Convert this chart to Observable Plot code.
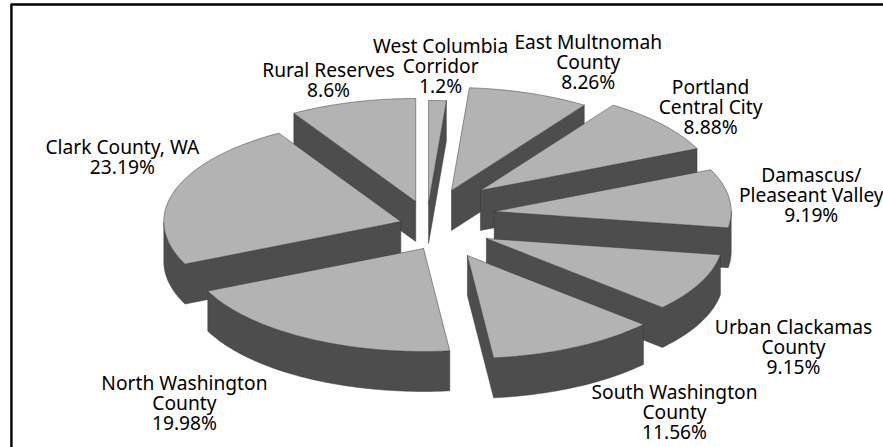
<!DOCTYPE html>
<html>
<head>
<meta charset="utf-8">
<style>
  html, body { margin: 0; padding: 0; background: #fff; }
  svg { display: block; }
</style>
<script src="https://cdn.jsdelivr.net/npm/d3@7"></script>
<script src="https://cdn.jsdelivr.net/npm/@observablehq/plot@0.6"></script>
</head>
<body>
<script>
// Slices, clockwise from twelve o'clock.
const regions = ["West Columbia\nCorridor", "East Multnomah\nCounty", "Portland\nCentral City",
  "Damascus/\nPleaseant Valley", "Urban Clackamas\nCounty", "South Washington\nCounty",
  "North Washington\nCounty", "Clark County, WA", "Rural Reserves"];
const shares = [1.2, 8.26, 8.88, 9.19, 9.15, 11.56, 19.98, 23.19, 8.6];
const shareLabels = ["1.2%", "8.26%", "8.88%", "9.19%", "9.15%", "11.56%", "19.98%", "23.19%", "8.6%"];

// How far each slice is pulled out of the pie, in pie radii.
const pullX = [-0.08, 0.017, 0.139, 0.197, 0.164, 0.084, -0.101, -0.197, -0.134];
const pullY = [0.146, 0.272, 0.272, 0.068, -0.194, -0.359, -0.291, -0.029, 0.165];

// Where each label block is centred, in pie radii.
const labelX = [-0.029, 0.594, 1.11, 1.535, 1.46, 0.958, -1.11, -1.372, -0.502];
const labelY = [1.476, 1.515, 1.078, 0.223, -1.252, -1.883, -1.796, 0.592, 1.34];

// Back-to-front drawing order, so nearer slices cover the walls behind them.
const paintOrder = [0, 8, 1, 2, 3, 4, 5, 7, 6];

const thickness = 0.388;      // height of the extruded pie, in vertical radii
const topFill = "#b3b3b3";
const wallFill = "#4d4d4d";
const edge = "#3a3a3a";

const total = d3.sum(shares);
const ends = d3.cumsum(shares).map((v) => (v / total) * 2 * Math.PI);

// Outline of one slice's upper face, traversed clockwise on screen.
function outline(i) {
  const a0 = i ? ends[i - 1] : 0, a1 = ends[i];
  const steps = Math.max(2, Math.ceil((a1 - a0) / 0.02));
  const apex = {x: pullX[i], y: pullY[i]};
  const arc = d3.range(steps + 1).map((k) => {
    const a = a0 + ((a1 - a0) * k) / steps;
    return {x: pullX[i] + Math.sin(a), y: pullY[i] + Math.cos(a)};
  });
  return [apex, ...arc, apex];
}

// Runs of outline edges facing the viewer (heading left), extruded downward.
function walls(path) {
  const runs = [];
  let run = null;
  for (let k = 1; k < path.length; ++k) {
    if (path[k].x < path[k - 1].x - 1e-9) {
      if (!run) runs.push(run = [path[k - 1]]);
      run.push(path[k]);
    } else run = null;
  }
  return runs.flatMap((r, id) => [...r, ...r.slice().reverse().map((p) => ({x: p.x, y: p.y - thickness})), r[0]]
    .map((p) => ({...p, id})));
}

const line = (data, fill, z) => Plot.line(data, {
  x: "x", y: "y", z, fill, stroke: edge, strokeWidth: 0.5, strokeLinejoin: "round", curve: "linear"
});

const sliceMarks = paintOrder.flatMap((i) => {
  const path = outline(i);
  return [line(walls(path), wallFill, "id"), line(path, topFill)];
});

const labels = regions.map((name, i) => ({
  text: `${name}\n${shareLabels[i]}`, x: labelX[i], y: labelY[i]
}));

const xMin = -447 / 237, xMax = 436 / 237, yMin = -229 / 103, yMax = 218 / 103;

const chart = Plot.plot({
  width: 883,
  height: 447,
  margin: 0,
  style: {background: "#fff"},
  x: {axis: null, domain: [xMin, xMax], range: [0, 883]},
  y: {axis: null, domain: [yMin, yMax], range: [447, 0]},
  marks: [
    Plot.ruleX([-1.84], {stroke: "#000", strokeWidth: 2.4, y1: yMin, y2: 2.078}),
    Plot.ruleY([2.078], {stroke: "#000", strokeWidth: 2.4, x1: -1.84, x2: xMax}),
    ...sliceMarks,
    Plot.text(labels, {
      x: "x", y: "y", text: "text", textAnchor: "middle", lineAnchor: "middle",
      lineHeight: 1.04, fontSize: 19.2, fill: "#000",
      fontFamily: "'Noto Sans', 'Open Sans', sans-serif"
    })
  ]
});
document.body.append(chart);
</script>
</body>
</html>
